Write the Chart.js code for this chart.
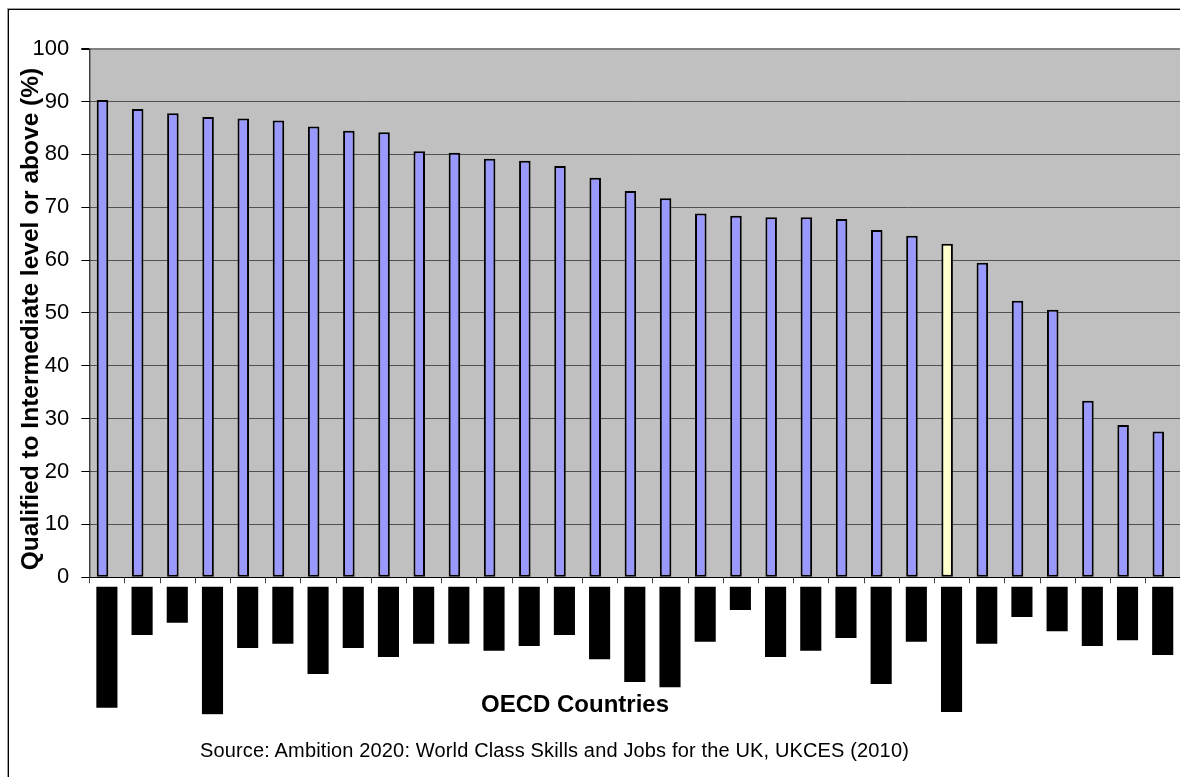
<!DOCTYPE html>
<html>
<head>
<meta charset="utf-8">
<script src="https://cdn.jsdelivr.net/npm/chart.js@4"></script>
<style>
  html, body { margin: 0; padding: 0; overflow: hidden; background: #fff; width: 1180px; height: 777px; }
  #frame { position: absolute; left: 8px; top: 9px; width: 1400px; height: 1000px;
           border-left: 1px solid #000; border-top: 1px solid #000; box-shadow: -1px -1px 0 #a0a0a0; }
  #chart { position: absolute; left: 0; top: 0; }
  .txt { position: absolute; font-family: "Liberation Sans", Arial, sans-serif; color: #000; white-space: nowrap; }
  #ytitle { left: -270px; top: 307px; width: 600px; height: 24px; line-height: 24px; text-align: center;
            font-size: 24.5px; font-weight: bold; transform: rotate(-90deg); }
  #xtitle { left: 425px; top: 692px; width: 300px; line-height: 24px; text-align: center;
            font-size: 24px; font-weight: bold; }
  #source { left: 200px; top: 740px; line-height: 20px; font-size: 20px; letter-spacing: 0.15px; }
</style>
</head>
<body>
<div id="frame"></div>
<canvas id="chart" width="1200" height="777"></canvas>
<div class="txt" id="ytitle">Qualified to Intermediate level or above (%)</div>
<div class="txt" id="xtitle">OECD Countries</div>
<div class="txt" id="source">Source: Ambition 2020: World Class Skills and Jobs for the UK, UKCES (2010)</div>

<script>
// Country ranking (names are masked by black label blocks)
const categories = ['1', '2', '3', '4', '5', '6', '7', '8', '9', '10',
                    '11', '12', '13', '14', '15', '16', '17', '18', '19', '20',
                    '21', '22', '23', '24', '25', '26', '27', '28', '29', '30', '31'];

// Share of adults qualified to intermediate level or above (%)
const qualifiedShare = [90.3, 88.6, 87.8, 87.1, 86.8, 86.4, 85.3, 84.5, 84.2, 80.6,
                        80.3, 79.2, 78.8, 77.8, 75.6, 73.1, 71.7, 68.8, 68.4, 68.1,
                        68.1, 67.8, 65.7, 64.6, 63.1, 59.5, 52.3, 50.6, 33.4, 28.8, 27.6];

// UK bar, drawn in a highlight colour
const highlightIndex = 24;

// Length of each masked category label block, in axis units below the label top
const labelMaskLength = [22.9, 9.1, 6.8, 24.1, 11.6, 10.8, 16.5, 11.6, 13.3, 10.8,
                         10.8, 12.1, 11.2, 9.1, 13.7, 18.0, 19.0, 10.4, 4.4, 13.3,
                         12.1, 9.7, 18.4, 10.4, 23.7, 10.8, 5.7, 8.4, 11.2, 10.1, 12.9];
const labelMaskTop = -1.8;

// Value-axis tick labels
const yTicks = [0, 10, 20, 30, 40, 50, 60, 70, 80, 90, 100];
const yMin = -26;

const FONT = '"Liberation Sans", Arial, sans-serif';

// Grey plot area, y-axis line and category tick marks along the zero line
const plotFrame = {
  id: 'plotFrame',
  beforeDraw(chart) {
    const { ctx, chartArea, scales: { y } } = chart;
    const top = y.getPixelForValue(yTicks[yTicks.length - 1]);
    const base = y.getPixelForValue(0);
    ctx.save();
    ctx.fillStyle = '#c0c0c0';
    ctx.fillRect(chartArea.left, top, chartArea.right - chartArea.left, base - top);
    ctx.restore();
  },
  afterDatasetsDraw(chart) {
    const { ctx, scales: { x, y } } = chart;
    const top = y.getPixelForValue(yTicks[yTicks.length - 1]);
    const base = y.getPixelForValue(0);
    ctx.save();
    ctx.strokeStyle = '#000';
    ctx.lineWidth = 1;
    ctx.beginPath();
    ctx.moveTo(x.left + 0.5, top);
    ctx.lineTo(x.left + 0.5, base + 0.5);
    ctx.stroke();
    const half = (x.getPixelForValue(1) - x.getPixelForValue(0)) / 2;
    ctx.strokeStyle = '#404040';
    ctx.beginPath();
    for (let i = 0; i <= categories.length; i++) {
      const bx = Math.round(x.getPixelForValue(i) - half) + 0.5;
      ctx.moveTo(bx, base);
      ctx.lineTo(bx, base + 6);
    }
    ctx.stroke();
    ctx.restore();
  }
};

new Chart(document.getElementById('chart'), {
  type: 'bar',
  data: {
    labels: categories,
    datasets: [
      {
        label: 'Qualified to Intermediate level or above',
        data: qualifiedShare,
        backgroundColor: qualifiedShare.map((v, i) => i === highlightIndex ? '#ffffcc' : '#9999ff'),
        borderColor: '#000',
        borderWidth: 2,
        borderSkipped: false,
        categoryPercentage: 0.5,
        barPercentage: 1.31
      },
      {
        label: '',
        data: categories.map(() => null),
        categoryPercentage: 0.5,
        barPercentage: 1.31
      },
      {
        label: 'Category labels',
        data: labelMaskLength.map(len => [labelMaskTop, labelMaskTop - len]),
        backgroundColor: '#000',
        borderWidth: 0,
        grouped: false,
        categoryPercentage: 0.6,
        barPercentage: 1
      }
    ]
  },
  options: {
    responsive: false,
    animation: false,
    devicePixelRatio: 1,
    layout: { padding: { left: 0, top: 48.7, right: 19.7, bottom: 62.3 } },
    plugins: {
      legend: { display: false },
      tooltip: { enabled: false },
      title: { display: false }
    },
    scales: {
      x: {
        display: false,
        offset: true
      },
      y: {
        min: yMin,
        max: 100,
        afterBuildTicks(scale) {
          scale.ticks = yTicks.map(v => ({ value: v }));
        },
        afterFit(scale) {
          scale.width = 89.3;
        },
        border: { display: false },
        grid: {
          color: c => c.tick.value === 0 ? '#000' : (c.tick.value === 100 ? '#808080' : '#505050'),
          lineWidth: c => c.tick.value === 100 ? 2 : 1,
          tickColor: '#000',
          tickLength: 8,
          drawTicks: true
        },
        ticks: {
          color: '#000',
          padding: 12,
          font: { family: FONT, size: 22 }
        }
      }
    }
  },
  plugins: [plotFrame]
});
</script>
</body>
</html>
